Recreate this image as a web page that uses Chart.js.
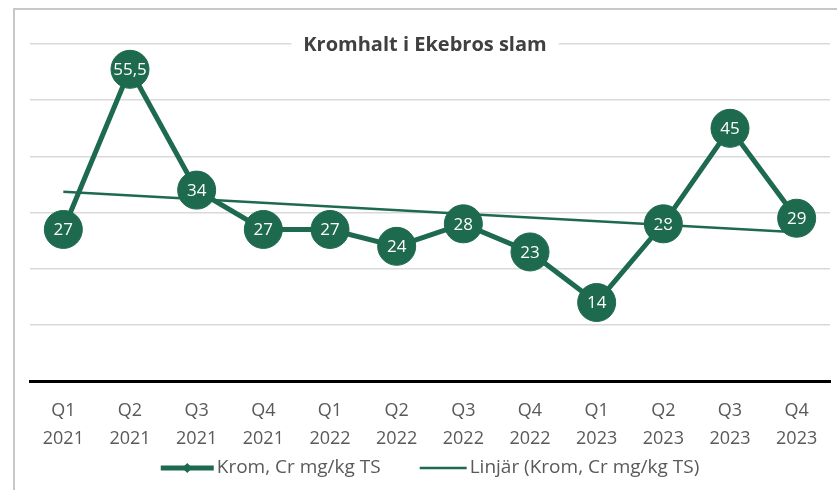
<!DOCTYPE html>
<html>
<head>
<meta charset="utf-8">
<script src="https://cdn.jsdelivr.net/npm/chart.js@4.4.1/dist/chart.umd.min.js"></script>
<style>
    body { margin: 0; background: #fff; }
    #wrap { position: relative; width: 837px; height: 490px; overflow: hidden; }
    #frame { position: absolute; left: 13px; top: 8px; width: 900px; height: 600px; border: 2px solid #c8c8c8; }
    #chart { position: absolute; left: 0; top: 0; }
</style>
</head>
<body>
<div id="wrap">
    <div id="frame"></div>
    <canvas id="chart" width="837" height="490"></canvas>
</div>
<script>
const quarters = ["Q1", "Q2", "Q3", "Q4", "Q1", "Q2", "Q3", "Q4", "Q1", "Q2", "Q3", "Q4"];
const years = ["2021", "2021", "2021", "2021", "2022", "2022", "2022", "2022", "2023", "2023", "2023", "2023"];
const kromValues = [27, 55.5, 34, 27, 27, 24, 28, 23, 14, 28, 45, 29];
// linear trend, read at first and last quarter
const trendValues = [33.7, null, null, null, null, null, null, null, null, null, null, 26.5];

const GREEN = "#1e6a4f";
const TEXT = "#595959";
const FONT = "'Open Sans', sans-serif";

const labelPlugin = {
    id: "pointLabels",
    afterDatasetDraw(chart, args) {
        if (args.index !== 0) return;
        const ctx = chart.ctx;
        ctx.save();
        ctx.fillStyle = "#fff";
        ctx.font = "17px " + FONT;
        ctx.textAlign = "center";
        ctx.textBaseline = "middle";
        args.meta.data.forEach((pt, i) => {
            ctx.fillText(String(kromValues[i]).replace(".", ","), pt.x, pt.y + 1);
        });
        ctx.restore();
    },
};

const titlePlugin = {
    id: "insideTitle",
    afterDraw(chart) {
        const ctx = chart.ctx;
        const text = "Kromhalt i Ekebros slam";
        ctx.save();
        ctx.font = "bold 20px " + FONT;
        const w = ctx.measureText(text).width;
        const x = 425;
        const y = chart.scales.y.getPixelForValue(60);
        ctx.fillStyle = "#fff";
        ctx.fillRect(x - w / 2 - 12, y - 6, w + 24, 12);
        ctx.fillStyle = "#404040";
        ctx.textAlign = "center";
        ctx.textBaseline = "middle";
        ctx.fillText(text, x, y + 1);
        ctx.restore();
    },
};

// Excel-like legend: line symbol (with diamond for the data series) right before the text
const legendPlugin = {
    id: "bottomLegend",
    afterDraw(chart) {
        const ctx = chart.ctx;
        const sets = chart.data.datasets;
        const symW = [53, 47];
        const textGap = 3;
        const itemGap = 39;
        const y = 468;
        ctx.save();
        ctx.font = "19px " + FONT;
        const widths = sets.map((ds) => ctx.measureText(ds.label).width);
        let total = 0;
        sets.forEach((ds, i) => { total += symW[i] + textGap + widths[i]; });
        total += itemGap * (sets.length - 1);
        let x = 430 - total / 2;
        sets.forEach((ds, i) => {
            ctx.strokeStyle = ds.borderColor;
            ctx.lineWidth = ds.borderWidth;
            ctx.beginPath();
            ctx.moveTo(x, y);
            ctx.lineTo(x + symW[i], y);
            ctx.stroke();
            if (ds.pointRadius > 0) {
                const cx = x + symW[i] / 2;
                ctx.fillStyle = ds.borderColor;
                ctx.beginPath();
                ctx.moveTo(cx, y - 5);
                ctx.lineTo(cx + 5, y);
                ctx.lineTo(cx, y + 5);
                ctx.lineTo(cx - 5, y);
                ctx.closePath();
                ctx.fill();
            }
            x += symW[i] + textGap;
            ctx.fillStyle = TEXT;
            ctx.textBaseline = "middle";
            ctx.fillText(ds.label, x, y);
            x += widths[i] + itemGap;
        });
        ctx.restore();
    },
};

new Chart(document.getElementById("chart"), {
    type: "line",
    data: {
        labels: quarters.map((q, i) => [q, years[i]]),
        datasets: [
            {
                label: "Krom, Cr mg/kg TS",
                data: kromValues,
                borderColor: GREEN,
                backgroundColor: GREEN,
                borderWidth: 5,
                pointRadius: 19,
                pointBorderWidth: 1,
                pointBorderColor: GREEN,
                pointBackgroundColor: GREEN,
                order: 1,
            },
            {
                label: "Linjär (Krom, Cr mg/kg TS)",
                data: trendValues,
                borderColor: GREEN,
                borderWidth: 2.5,
                pointRadius: 0,
                spanGaps: true,
                order: 0,
            },
        ],
    },
    plugins: [labelPlugin, titlePlugin, legendPlugin],
    options: {
        responsive: false,
        animation: false,
        events: [],
        layout: { autoPadding: false, padding: { top: 44, left: 30, right: 7, bottom: 29 } },
        scales: {
            x: {
                offset: true,
                grid: { display: false },
                border: { color: "#000", width: 3 },
                ticks: { color: TEXT, font: { family: FONT, size: 18, lineHeight: 1.55 }, padding: 8, maxRotation: 0 },
            },
            y: {
                min: 0,
                max: 60,
                afterFit(scale) { scale.width = 0; },
                ticks: { display: false, stepSize: 10 },
                border: { display: false },
                grid: { color: "#d9d9d9", lineWidth: 1.5, drawTicks: false },
            },
        },
        plugins: {
            title: { display: false },
            legend: { display: false },
            tooltip: { enabled: false },
        },
    },
});
</script>
</body>
</html>
